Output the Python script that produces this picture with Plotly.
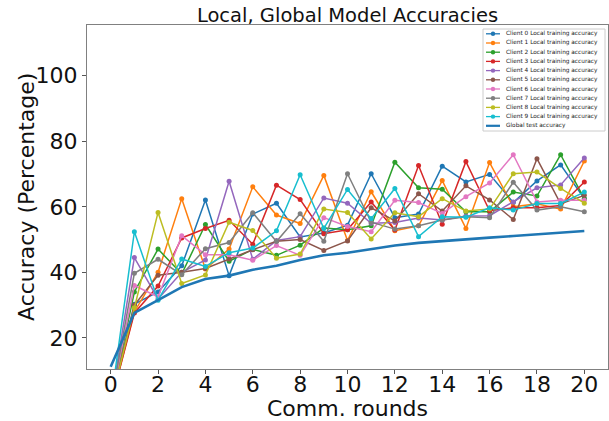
import plotly.graph_objects as go

rounds = list(range(21))
client_names = [f"Client {i} Local training accuracy" for i in range(10)]
global_name = "Global test accuracy"

client0 = [0, 30.3, 34.0, 42.0, 62.1, 39.0, 57.8, 61.1, 50.8, 52.0, 54.4, 70.1, 56.7, 57.8, 72.4, 67.6, 69.9, 61.3, 67.9, 72.8, 62.5]
client1 = [0, 28.0, 40.0, 62.5, 41.0, 47.1, 66.1, 57.5, 54.9, 69.6, 49.7, 64.6, 52.7, 54.2, 68.0, 53.4, 73.5, 60.0, 60.9, 59.3, 74.0]
client2 = [0, 34.0, 47.1, 39.5, 54.6, 43.4, 47.0, 45.2, 48.3, 53.5, 53.0, 54.2, 73.6, 65.8, 65.4, 58.5, 58.5, 64.5, 63.3, 75.9, 62.5]
client3 = [0, 27.6, 35.8, 50.5, 53.4, 55.9, 48.6, 66.6, 62.2, 51.8, 53.0, 61.5, 52.9, 72.6, 54.7, 73.8, 58.8, 59.7, 59.7, 60.4, 67.6]
client4 = [0, 44.5, 31.9, 40.0, 43.8, 67.8, 44.0, 49.7, 50.9, 62.7, 61.1, 55.0, 55.2, 56.6, 56.0, 57.2, 57.3, 61.5, 65.8, 66.7, 74.9]
client5 = [0, 30.0, 39.1, 40.0, 41.2, 44.1, 46.9, 49.5, 50.0, 46.7, 49.6, 59.7, 55.7, 64.0, 58.7, 66.4, 62.1, 56.1, 74.7, 60.9, 63.5]
client6 = [0, 36.0, 32.5, 51.2, 45.4, 45.4, 43.7, 48.2, 45.2, 56.7, 54.0, 52.4, 62.0, 61.3, 58.0, 63.1, 67.3, 75.9, 61.5, 62.0, 62.0]
client7 = [0, 39.7, 44.0, 39.3, 47.2, 49.1, 58.2, 49.4, 57.9, 49.5, 70.1, 55.3, 53.2, 54.2, 56.0, 57.0, 56.7, 67.5, 59.0, 60.0, 58.5]
client8 = [0, 29.2, 58.3, 36.6, 39.2, 55.3, 52.8, 44.3, 45.6, 59.3, 58.3, 50.2, 58.2, 57.0, 62.5, 58.7, 59.3, 70.1, 70.6, 65.6, 61.1]
client9 = [0, 52.4, 31.5, 44.1, 41.8, 46.0, 47.4, 52.7, 69.8, 53.4, 65.3, 56.4, 65.6, 50.9, 57.0, 56.8, 59.7, 59.0, 61.0, 61.0, 64.5]
global_acc = [11.2, 27.6, 31.5, 35.5, 38.0, 39.0, 40.8, 42.0, 43.8, 45.2, 46.0, 47.2, 48.2, 49.0, 49.6, 50.1, 50.6, 51.1, 51.6, 52.3, 52.6]

clients = [client0, client1, client2, client3, client4, client5, client6, client7, client8, client9]
colors = ["#1f77b4", "#ff7f0e", "#2ca02c", "#d62728", "#9467bd",
          "#8c564b", "#e377c2", "#7f7f7f", "#bcbd22", "#17becf"]
global_color = "#1f77b4"

x_ticks = list(range(0, 21, 2))
y_ticks = [20, 40, 60, 80, 100]

W, H = 609, 421
ML, MR, MT, MB = 87, 1, 25, 52
PW, PH = W - ML - MR, H - MT - MB

fig = go.Figure()
for name, vals, col in zip(client_names, clients, colors):
    fig.add_trace(go.Scatter(x=rounds, y=vals, name=name, mode="lines+markers",
                             line=dict(color=col, width=1.5),
                             marker=dict(color=col, size=5), showlegend=False))
fig.add_trace(go.Scatter(x=rounds, y=global_acc, name=global_name, mode="lines",
                         line=dict(color=global_color, width=2.6), showlegend=False))

# pixel -> paper helpers for the compact legend and axis titles
def px(xp):
    return (xp - ML) / PW

def py(yp):
    return (MT + PH - yp) / PH

shapes = []
annotations = []
box = (483, 29, 605, 131)
shapes.append(dict(type="rect", xref="paper", yref="paper",
                   x0=px(box[0]), x1=px(box[2]), y0=py(box[3]), y1=py(box[1]),
                   line=dict(color="#cccccc", width=1), fillcolor="rgba(255,255,255,0.85)",
                   layer="above"))
entries = list(zip(client_names, colors)) + [(global_name, global_color)]
y_first, step = 33.8, 9.2
for i, (name, col) in enumerate(entries):
    yc = y_first + i * step
    is_global = (i == len(entries) - 1)
    shapes.append(dict(type="line", xref="paper", yref="paper",
                       x0=px(486), x1=px(500), y0=py(yc), y1=py(yc),
                       line=dict(color=col, width=2.2 if is_global else 1.3), layer="above"))
    if not is_global:
        r = 2.2
        shapes.append(dict(type="circle", xref="paper", yref="paper",
                           x0=px(493 - r), x1=px(493 + r), y0=py(yc + r), y1=py(yc - r),
                           line=dict(color=col, width=0), fillcolor=col, layer="above"))
    annotations.append(dict(text=name, xref="paper", yref="paper",
                            x=px(503.5), y=py(yc), xanchor="left", yanchor="middle",
                            showarrow=False, font=dict(family="DejaVu Sans", size=5.8, color="#222")))

# axis titles
annotations.append(dict(text="Comm. rounds", xref="paper", yref="paper",
                        x=0.5, y=py(408), xanchor="center", yanchor="middle", showarrow=False,
                        font=dict(family="DejaVu Sans", size=22, color="#111")))
annotations.append(dict(text="Accuracy (Percentage)", xref="paper", yref="paper",
                        x=px(26), y=0.5, xanchor="center", yanchor="middle", showarrow=False,
                        textangle=-90, font=dict(family="DejaVu Sans", size=22, color="#111")))

axis_common = dict(showgrid=False, zeroline=False, showline=True, linecolor="#808080",
                   linewidth=1, mirror=True, ticks="outside", ticklen=4, tickwidth=1,
                   tickcolor="#555555", tickfont=dict(family="DejaVu Sans", size=22, color="#111"))

fig.update_layout(
    width=W, height=H,
    margin=dict(l=ML, r=MR, t=MT, b=MB, autoexpand=False),
    paper_bgcolor="white", plot_bgcolor="white",
    title=dict(text="Local, Global Model Accuracies", x=0.5, xref="paper",
               y=1 - 15 / H, yref="container", xanchor="center", yanchor="middle",
               font=dict(family="DejaVu Sans", size=19.5, color="#111")),
    xaxis=dict(range=[-1, 21], tickvals=x_ticks, ticklabelstandoff=-8, **axis_common),
    yaxis=dict(range=[10.5, 115.5], tickvals=y_ticks, **axis_common),
    shapes=shapes, annotations=annotations, showlegend=False,
)

fig.write_html("out.html")
